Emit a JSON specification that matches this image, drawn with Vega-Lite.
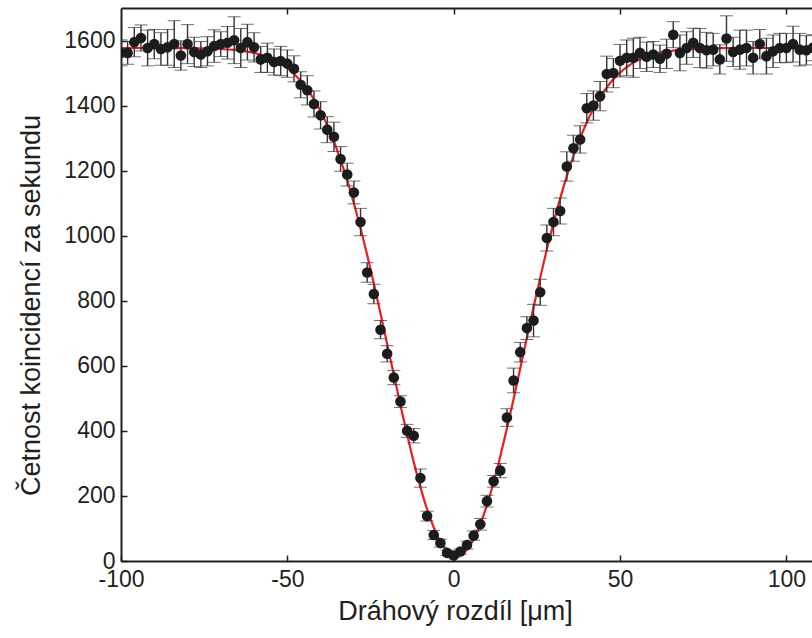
{
  "$schema": "https://vega.github.io/schema/vega-lite/v6.json",
  "width": 691,
  "height": 553,
  "autosize": {"type": "none"},
  "padding": {"left": 121, "top": 8, "right": 0, "bottom": 77},
  "background": "white",
  "config": {
    "view": {"stroke": null},
    "font": "Liberation Sans",
    "axis": {"grid": false, "labelFont": "Liberation Sans", "titleFont": "Liberation Sans"}
  },
  "datasets": {
    "pts": [
      {"x": -100, "y": 1562, "err": 40}, {"x": -98, "y": 1562, "err": 35}, {"x": -96, "y": 1595, "err": 45},
      {"x": -94, "y": 1608, "err": 40}, {"x": -92, "y": 1577, "err": 55}, {"x": -90, "y": 1589, "err": 45},
      {"x": -88, "y": 1574, "err": 50}, {"x": -86, "y": 1579, "err": 55}, {"x": -84, "y": 1589, "err": 72},
      {"x": -82, "y": 1554, "err": 45}, {"x": -80, "y": 1589, "err": 60}, {"x": -78, "y": 1565, "err": 45},
      {"x": -76, "y": 1557, "err": 40}, {"x": -74, "y": 1567, "err": 45}, {"x": -72, "y": 1583, "err": 50},
      {"x": -70, "y": 1589, "err": 38}, {"x": -68, "y": 1593, "err": 50}, {"x": -66, "y": 1601, "err": 72},
      {"x": -64, "y": 1577, "err": 60}, {"x": -62, "y": 1595, "err": 55}, {"x": -60, "y": 1579, "err": 45},
      {"x": -58, "y": 1542, "err": 40}, {"x": -56, "y": 1547, "err": 45}, {"x": -54, "y": 1534, "err": 40},
      {"x": -52, "y": 1537, "err": 45}, {"x": -50, "y": 1529, "err": 42}, {"x": -48, "y": 1513, "err": 40},
      {"x": -46, "y": 1464, "err": 40}, {"x": -44, "y": 1447, "err": 45}, {"x": -42, "y": 1405, "err": 40},
      {"x": -40, "y": 1370, "err": 42}, {"x": -38, "y": 1326, "err": 40}, {"x": -36, "y": 1304, "err": 45},
      {"x": -34, "y": 1236, "err": 38}, {"x": -32, "y": 1188, "err": 35}, {"x": -30, "y": 1133, "err": 35},
      {"x": -28, "y": 1042, "err": 42}, {"x": -26, "y": 887, "err": 30}, {"x": -24, "y": 821, "err": 30},
      {"x": -22, "y": 711, "err": 28}, {"x": -20, "y": 637, "err": 25}, {"x": -18, "y": 564, "err": 22},
      {"x": -16, "y": 490, "err": 18}, {"x": -14, "y": 400, "err": 20}, {"x": -12, "y": 385, "err": 22},
      {"x": -10, "y": 255, "err": 28}, {"x": -8, "y": 138, "err": 15}, {"x": -6, "y": 80, "err": 14},
      {"x": -4, "y": 55, "err": 12}, {"x": -2, "y": 25, "err": 8}, {"x": 0, "y": 17, "err": 6},
      {"x": 2, "y": 29, "err": 8}, {"x": 4, "y": 49, "err": 12}, {"x": 6, "y": 78, "err": 14},
      {"x": 8, "y": 113, "err": 18}, {"x": 10, "y": 184, "err": 18}, {"x": 12, "y": 245, "err": 18},
      {"x": 14, "y": 278, "err": 22}, {"x": 16, "y": 441, "err": 27}, {"x": 18, "y": 555, "err": 38},
      {"x": 20, "y": 642, "err": 30}, {"x": 22, "y": 716, "err": 35}, {"x": 24, "y": 739, "err": 50},
      {"x": 26, "y": 826, "err": 40}, {"x": 28, "y": 993, "err": 40}, {"x": 30, "y": 1042, "err": 42},
      {"x": 32, "y": 1076, "err": 40}, {"x": 34, "y": 1213, "err": 45}, {"x": 36, "y": 1269, "err": 40},
      {"x": 38, "y": 1296, "err": 42}, {"x": 40, "y": 1392, "err": 45}, {"x": 42, "y": 1400, "err": 45},
      {"x": 44, "y": 1429, "err": 45}, {"x": 46, "y": 1497, "err": 55}, {"x": 48, "y": 1500, "err": 45},
      {"x": 50, "y": 1538, "err": 50}, {"x": 52, "y": 1547, "err": 55}, {"x": 54, "y": 1547, "err": 60},
      {"x": 56, "y": 1562, "err": 48}, {"x": 58, "y": 1550, "err": 45}, {"x": 60, "y": 1557, "err": 40},
      {"x": 62, "y": 1544, "err": 42}, {"x": 64, "y": 1559, "err": 45}, {"x": 66, "y": 1618, "err": 40},
      {"x": 68, "y": 1562, "err": 55}, {"x": 70, "y": 1577, "err": 50}, {"x": 72, "y": 1593, "err": 45},
      {"x": 74, "y": 1577, "err": 60}, {"x": 76, "y": 1570, "err": 55}, {"x": 78, "y": 1572, "err": 50},
      {"x": 80, "y": 1542, "err": 45}, {"x": 82, "y": 1606, "err": 70}, {"x": 84, "y": 1565, "err": 45},
      {"x": 86, "y": 1572, "err": 60}, {"x": 88, "y": 1577, "err": 55}, {"x": 90, "y": 1547, "err": 50},
      {"x": 92, "y": 1589, "err": 45}, {"x": 94, "y": 1552, "err": 55}, {"x": 96, "y": 1567, "err": 50},
      {"x": 98, "y": 1577, "err": 45}, {"x": 100, "y": 1577, "err": 45}, {"x": 102, "y": 1589, "err": 55},
      {"x": 104, "y": 1572, "err": 50}, {"x": 106, "y": 1570, "err": 45}, {"x": 108, "y": 1578, "err": 40}
    ],
    "fit": [
      {"x": -100, "y": 1577}, {"x": -90, "y": 1577}, {"x": -80, "y": 1576.5}, {"x": -74, "y": 1575.5},
      {"x": -70, "y": 1574}, {"x": -66, "y": 1571}, {"x": -62, "y": 1566}, {"x": -60, "y": 1562},
      {"x": -58, "y": 1556}, {"x": -56, "y": 1549}, {"x": -54, "y": 1540}, {"x": -52, "y": 1529},
      {"x": -50, "y": 1515}, {"x": -48, "y": 1497}, {"x": -46, "y": 1476}, {"x": -44, "y": 1450},
      {"x": -42, "y": 1419}, {"x": -40, "y": 1382}, {"x": -38, "y": 1339}, {"x": -36, "y": 1290},
      {"x": -34, "y": 1233}, {"x": -32, "y": 1170}, {"x": -30, "y": 1100}, {"x": -28, "y": 1023},
      {"x": -26, "y": 941}, {"x": -24, "y": 853}, {"x": -22, "y": 761}, {"x": -20, "y": 667},
      {"x": -18, "y": 573}, {"x": -16, "y": 479}, {"x": -14, "y": 389}, {"x": -12, "y": 304},
      {"x": -10, "y": 227}, {"x": -8, "y": 159}, {"x": -6, "y": 103}, {"x": -4, "y": 59},
      {"x": -2, "y": 30}, {"x": 0, "y": 16}, {"x": 2, "y": 18}, {"x": 4, "y": 35},
      {"x": 6, "y": 67}, {"x": 8, "y": 113}, {"x": 10, "y": 172}, {"x": 12, "y": 242},
      {"x": 14, "y": 321}, {"x": 16, "y": 407}, {"x": 18, "y": 498}, {"x": 20, "y": 592},
      {"x": 22, "y": 686}, {"x": 24, "y": 780}, {"x": 26, "y": 871}, {"x": 28, "y": 958},
      {"x": 30, "y": 1039}, {"x": 32, "y": 1114}, {"x": 34, "y": 1183}, {"x": 36, "y": 1245},
      {"x": 38, "y": 1300}, {"x": 40, "y": 1348}, {"x": 42, "y": 1390}, {"x": 44, "y": 1426},
      {"x": 46, "y": 1456}, {"x": 48, "y": 1481}, {"x": 50, "y": 1501}, {"x": 52, "y": 1518},
      {"x": 54, "y": 1532}, {"x": 56, "y": 1542}, {"x": 58, "y": 1551}, {"x": 60, "y": 1558},
      {"x": 62, "y": 1563}, {"x": 64, "y": 1566}, {"x": 66, "y": 1569}, {"x": 68, "y": 1572},
      {"x": 70, "y": 1573}, {"x": 74, "y": 1575}, {"x": 80, "y": 1576.5}, {"x": 90, "y": 1577},
      {"x": 108, "y": 1577}
    ]
  },
  "resolve": {"axis": {"x": "independent"}},
  "layer": [
    {
      "data": {"name": "fit"},
      "mark": {"type": "line", "color": "#ed1c24", "strokeWidth": 2.2, "interpolate": "monotone", "clip": true},
      "encoding": {
        "x": {"field": "x", "type": "quantitative", "scale": {"domain": [-100, 107.7], "nice": false, "zero": false},
          "axis": {"orient": "top", "values": [-50, 0, 50, 100], "labels": false, "title": null, "tickSize": -6, "tickWidth": 1.5,
            "tickColor": "#231f20", "domainColor": "#231f20", "domainWidth": 2}},
        "y": {"field": "y", "type": "quantitative", "scale": {"domain": [0, 1700], "nice": false, "zero": false},
          "axis": {"title": "Četnost koincidencí za sekundu"}}
      }
    },
    {
      "data": {"name": "pts"},
      "mark": {"type": "errorbar", "color": "#333333", "clip": true,
        "ticks": {"size": 13, "strokeWidth": 1.4, "color": "#333333"},
        "rule": {"strokeWidth": 1.4, "color": "#333333"}},
      "encoding": {
        "x": {"field": "x", "type": "quantitative", "scale": {"domain": [-100, 107.7], "nice": false, "zero": false}, "axis": null},
        "y": {"field": "y", "type": "quantitative", "scale": {"domain": [0, 1700], "nice": false, "zero": false},
          "axis": {"title": "Četnost koincidencí za sekundu"}},
        "yError": {"field": "err"}
      }
    },
    {
      "data": {"name": "pts"},
      "mark": {"type": "circle", "color": "#1c1c1c", "opacity": 1, "size": 112, "clip": true},
      "encoding": {
        "x": {"field": "x", "type": "quantitative", "scale": {"domain": [-100, 107.7], "nice": false, "zero": false},
          "axis": {"orient": "bottom", "values": [-100, -50, 0, 50, 100], "tickSize": -6, "tickWidth": 1.5,
            "tickColor": "#231f20", "domainColor": "#231f20", "domainWidth": 2,
            "labelFontSize": 23, "labelPadding": 13, "labelColor": "#231f20", "labelFlush": false, "labelOverlap": false,
            "labelExpr": "datum.value < 0 ? '-' + abs(datum.value) : '' + datum.value",
            "title": "Dráhový rozdíl [μm]", "titleFontSize": 27, "titleFontWeight": "normal", "titleColor": "#231f20",
            "titleX": 334, "titleY": 58, "titleBaseline": "alphabetic", "titleAlign": "center"}},
        "y": {"field": "y", "type": "quantitative", "scale": {"domain": [0, 1700], "nice": false, "zero": false},
          "axis": {"values": [0, 200, 400, 600, 800, 1000, 1200, 1400, 1600], "format": "d", "tickSize": -6, "tickWidth": 1.5,
            "tickColor": "#231f20", "domainColor": "#231f20", "domainWidth": 2,
            "labelFontSize": 23, "labelPadding": 12, "labelColor": "#231f20", "labelFlush": false, "labelOverlap": false,
            "labelExpr": "'' + datum.value",
            "title": "Četnost koincidencí za sekundu", "titleFontSize": 27, "titleFontWeight": "normal", "titleColor": "#231f20",
            "titleX": -82, "titleY": 297, "titleBaseline": "alphabetic", "titleAlign": "center", "titleAngle": 270}}
      }
    }
  ]
}
